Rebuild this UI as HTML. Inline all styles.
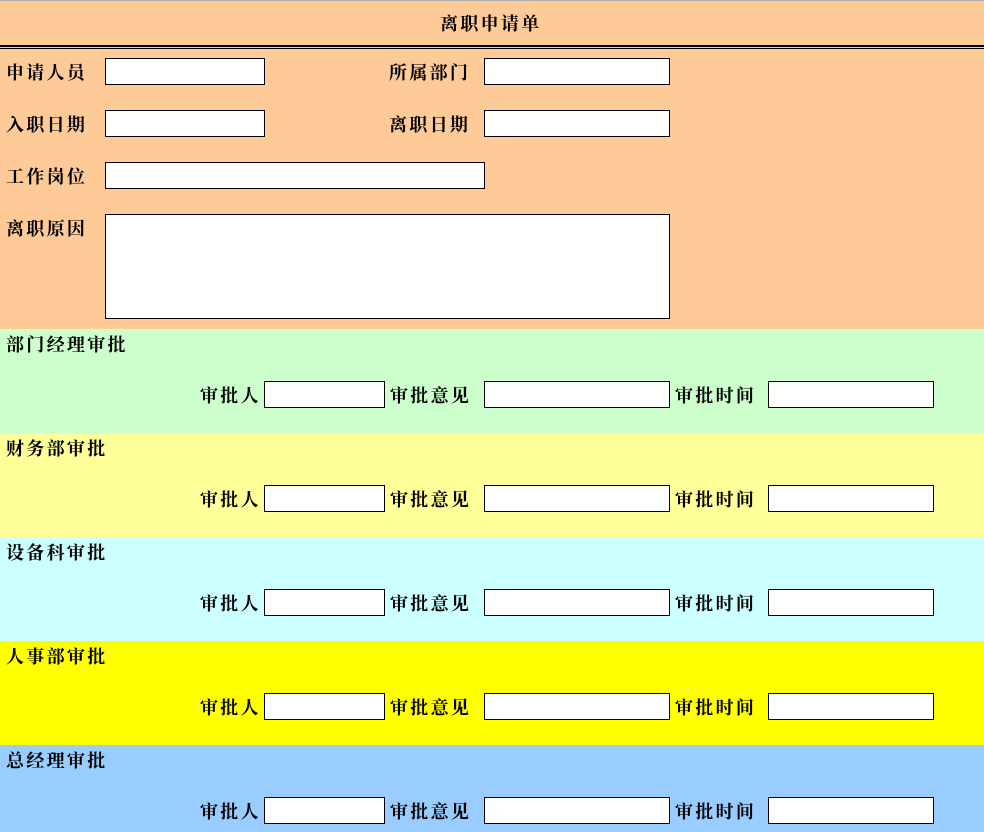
<!DOCTYPE html>
<html><head><meta charset="utf-8"><style>
body{margin:0;width:984px;height:832px;position:relative;overflow:hidden;font-family:"Liberation Serif","Noto Serif CJK SC",serif;font-weight:bold;font-size:18px;color:#000}
div{position:absolute}
.b{left:0;width:984px}
.t{white-space:nowrap;line-height:20px;letter-spacing:2.3px}
.i{background:#fff;border:1px solid #000;box-sizing:border-box}
</style></head><body>
<div class="b" style="top:0;height:329px;background:#fecb98"></div>
<div class="b" style="top:0;height:1px;background:#aaa"></div>
<div class="t" style="left:440px;top:14px">离职申请单</div>
<div class="b" style="top:45px;height:2px;background:#000"></div>
<div class="b" style="top:48px;height:1px;background:#000"></div>

<div class="t" style="left:6px;top:63px">申请人员</div>
<div class="i" style="left:105px;top:58px;width:160px;height:27px"></div>
<div class="t" style="left:389px;top:63px">所属部门</div>
<div class="i" style="left:484px;top:58px;width:186px;height:27px"></div>
<div class="t" style="left:6px;top:115px">入职日期</div>
<div class="i" style="left:105px;top:110px;width:160px;height:27px"></div>
<div class="t" style="left:389px;top:115px">离职日期</div>
<div class="i" style="left:484px;top:110px;width:186px;height:27px"></div>
<div class="t" style="left:6px;top:167px">工作岗位</div>
<div class="i" style="left:105px;top:162px;width:380px;height:27px"></div>
<div class="t" style="left:6px;top:219px">离职原因</div>
<div class="i" style="left:105px;top:214px;width:565px;height:105px"></div>

<div class="b" style="top:329px;height:104px;background:#ccffcc"></div>
<div class="b" style="top:433px;height:104px;background:#ffff99"></div>
<div class="b" style="top:537px;height:104px;background:#ccffff"></div>
<div class="b" style="top:641px;height:104px;background:#ffff00"></div>
<div class="b" style="top:745px;height:87px;background:#99ccff"></div>

<div class="t" style="left:6px;top:335px">部门经理审批</div>
<div class="t" style="left:6px;top:439px">财务部审批</div>
<div class="t" style="left:6px;top:543px">设备科审批</div>
<div class="t" style="left:6px;top:647px">人事部审批</div>
<div class="t" style="left:6px;top:751px">总经理审批</div>

<div class="t" style="left:200px;top:386px">审批人</div><div class="i" style="left:264px;top:381px;width:121px;height:27px"></div><div class="t" style="left:390px;top:386px">审批意见</div><div class="i" style="left:484px;top:381px;width:186px;height:27px"></div><div class="t" style="left:675px;top:386px">审批时间</div><div class="i" style="left:768px;top:381px;width:166px;height:27px"></div>

<div class="t" style="left:200px;top:490px">审批人</div><div class="i" style="left:264px;top:485px;width:121px;height:27px"></div><div class="t" style="left:390px;top:490px">审批意见</div><div class="i" style="left:484px;top:485px;width:186px;height:27px"></div><div class="t" style="left:675px;top:490px">审批时间</div><div class="i" style="left:768px;top:485px;width:166px;height:27px"></div>

<div class="t" style="left:200px;top:594px">审批人</div><div class="i" style="left:264px;top:589px;width:121px;height:27px"></div><div class="t" style="left:390px;top:594px">审批意见</div><div class="i" style="left:484px;top:589px;width:186px;height:27px"></div><div class="t" style="left:675px;top:594px">审批时间</div><div class="i" style="left:768px;top:589px;width:166px;height:27px"></div>

<div class="t" style="left:200px;top:698px">审批人</div><div class="i" style="left:264px;top:693px;width:121px;height:27px"></div><div class="t" style="left:390px;top:698px">审批意见</div><div class="i" style="left:484px;top:693px;width:186px;height:27px"></div><div class="t" style="left:675px;top:698px">审批时间</div><div class="i" style="left:768px;top:693px;width:166px;height:27px"></div>

<div class="t" style="left:200px;top:802px">审批人</div><div class="i" style="left:264px;top:797px;width:121px;height:27px"></div><div class="t" style="left:390px;top:802px">审批意见</div><div class="i" style="left:484px;top:797px;width:186px;height:27px"></div><div class="t" style="left:675px;top:802px">审批时间</div><div class="i" style="left:768px;top:797px;width:166px;height:27px"></div>
</body></html>
